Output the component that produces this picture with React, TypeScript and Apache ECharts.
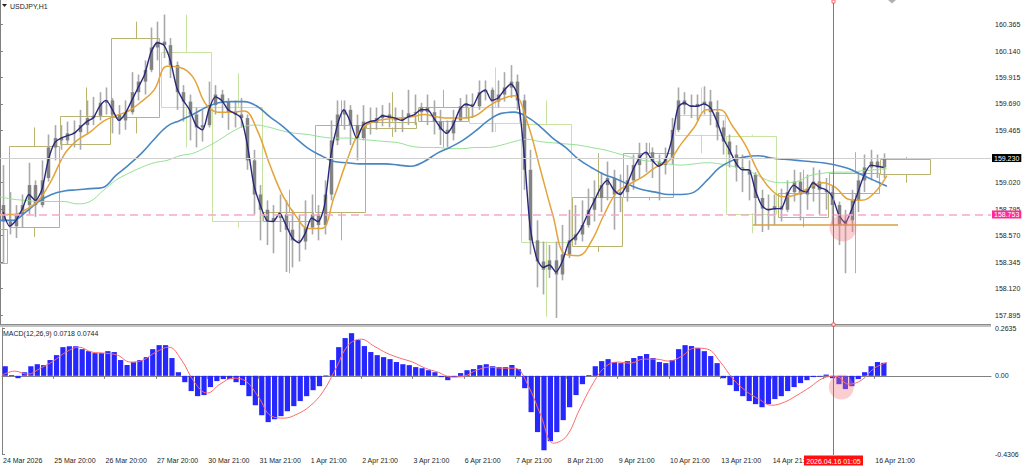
import React, { useEffect, useRef } from 'react';
import * as echarts from 'echarts';

// ---------- text ----------
const symbolTitle = 'USDJPY,H1';
const macdTitle = 'MACD(12,26,9) 0.0718 0.0744';
const cursorLabel = '2026.04.16 01:05';

// ---------- time axis (hourly bars) ----------
const barsPerLabel = 24;
const barsPerCandle = 3;
const barsPerMaPoint = 6;
const xMaxBar = 462.6;
const timeLabels = [
  '24 Mar 2026', '25 Mar 20:00', '26 Mar 20:00', '27 Mar 20:00', '30 Mar 21:00', '31 Mar 21:00',
  '1 Apr 21:00', '2 Apr 21:00', '3 Apr 21:00', '6 Apr 21:00', '7 Apr 21:00', '8 Apr 21:00',
  '9 Apr 21:00', '10 Apr 21:00', '13 Apr 21:00', '14 Apr 21:00', '15 Apr 21:00', '16 Apr 21:00',
];
const hiddenTimeLabel = 16; // covered by the cursor time box

// ---------- price axis ----------
const priceMin = 157.81;
const priceMax = 160.574;
const priceTicks = [160.365, 160.14, 159.915, 159.69, 159.465, 159.02, 158.795, 158.57, 158.345, 158.12, 157.895];
const bidPrice = 159.23;
const alertPrice = 158.753;
const supportPrice = 158.661;
const supportFromBar = 351.5;
const supportToBar = 419.2;
const cursorBar = 388.5;
const highlightMain = [393.5, 158.635];
const highlightMacd = [392.6, -0.062];

// ---------- MACD axis ----------
const macdMin = -0.4306;
const macdMax = 0.2635;
const macdTicks = [0.2635, 0, -0.4306];

// ---------- candles (3-hour groups): open, close, low, high ----------
const candles = [
  [158.83, 158.69, 158.34, 159.17], [158.69, 158.65, 158.58, 158.94], [158.65, 158.75, 158.55, 158.83], [158.75, 158.83, 158.64, 158.92],
  [158.83, 159.00, 158.75, 159.19], [159.00, 158.83, 158.73, 159.04], [158.83, 159.04, 158.81, 159.21], [159.06, 159.32, 159.03, 159.43],
  [159.32, 159.40, 159.21, 159.51], [159.40, 159.38, 159.30, 159.51], [159.38, 159.44, 159.34, 159.54], [159.44, 159.45, 159.32, 159.55],
  [159.45, 159.51, 159.30, 159.64], [159.51, 159.57, 159.43, 159.72], [159.57, 159.59, 159.51, 159.75], [159.59, 159.70, 159.55, 159.79],
  [159.70, 159.72, 159.60, 159.83], [159.72, 159.60, 159.44, 159.74], [159.60, 159.55, 159.43, 159.68], [159.55, 159.62, 159.47, 159.72],
  [159.62, 159.79, 159.60, 159.96], [159.79, 159.88, 159.72, 159.94], [159.88, 159.98, 159.77, 160.06], [159.98, 160.17, 159.96, 160.34],
  [160.17, 160.22, 160.06, 160.39], [160.22, 160.19, 160.08, 160.45], [160.19, 160.02, 159.91, 160.25], [160.02, 159.79, 159.64, 160.05],
  [159.79, 159.71, 159.54, 159.85], [159.71, 159.60, 159.38, 159.77], [159.60, 159.49, 159.32, 159.66], [159.49, 159.51, 159.37, 159.64],
  [159.51, 159.68, 159.49, 159.88], [159.68, 159.77, 159.60, 159.85], [159.77, 159.71, 159.57, 159.81], [159.71, 159.62, 159.47, 159.74],
  [159.62, 159.60, 159.49, 159.72], [159.60, 159.57, 159.49, 159.74], [159.57, 159.21, 159.13, 159.60], [159.21, 158.92, 158.75, 159.30],
  [158.92, 158.79, 158.53, 159.00], [158.79, 158.69, 158.49, 158.87], [158.69, 158.72, 158.42, 158.83], [158.72, 158.75, 158.60, 158.92],
  [158.75, 158.62, 158.26, 158.87], [158.62, 158.53, 158.30, 158.79], [158.53, 158.52, 158.35, 158.75], [158.52, 158.64, 158.45, 158.87],
  [158.64, 158.75, 158.58, 158.92], [158.75, 158.66, 158.53, 158.83], [158.66, 158.92, 158.58, 159.04], [158.92, 159.38, 158.87, 159.55],
  [159.38, 159.60, 159.34, 159.72], [159.60, 159.64, 159.47, 159.72], [159.64, 159.51, 159.34, 159.68], [159.51, 159.40, 159.21, 159.60],
  [159.40, 159.54, 159.38, 159.68], [159.54, 159.53, 159.43, 159.66], [159.53, 159.57, 159.47, 159.66], [159.57, 159.60, 159.50, 159.68],
  [159.60, 159.57, 159.49, 159.70], [159.57, 159.55, 159.45, 159.66], [159.55, 159.57, 159.45, 159.64], [159.57, 159.61, 159.51, 159.81],
  [159.61, 159.62, 159.51, 159.77], [159.62, 159.66, 159.54, 159.70], [159.66, 159.62, 159.51, 159.77], [159.62, 159.54, 159.43, 159.72],
  [159.54, 159.47, 159.34, 159.64], [159.47, 159.44, 159.32, 159.55], [159.44, 159.55, 159.38, 159.64], [159.55, 159.67, 159.54, 159.74],
  [159.67, 159.69, 159.57, 159.77], [159.69, 159.67, 159.57, 159.78], [159.67, 159.79, 159.64, 159.89], [159.79, 159.81, 159.72, 159.89],
  [159.81, 159.71, 159.45, 159.83], [159.71, 159.77, 159.66, 159.89], [159.77, 159.83, 159.71, 159.96], [159.83, 159.88, 159.74, 160.02],
  [159.88, 159.72, 159.64, 159.94], [159.72, 159.13, 158.96, 159.77], [159.13, 158.53, 158.41, 159.30], [158.53, 158.35, 158.13, 158.70],
  [158.35, 158.28, 158.07, 158.52], [158.28, 158.36, 158.21, 158.49], [158.36, 158.24, 157.87, 158.52], [158.24, 158.41, 158.19, 158.66],
  [158.41, 158.53, 158.38, 158.79], [158.53, 158.58, 158.49, 158.83], [158.58, 158.66, 158.52, 158.87], [158.66, 158.79, 158.64, 158.97],
  [158.79, 158.89, 158.69, 159.04], [158.89, 159.00, 158.77, 159.11], [159.00, 159.06, 158.87, 159.20], [159.06, 158.92, 158.62, 159.13],
  [158.92, 158.94, 158.77, 159.09], [158.94, 159.04, 158.86, 159.17], [159.04, 159.17, 158.96, 159.26], [159.17, 159.26, 159.06, 159.36],
  [159.26, 159.28, 159.11, 159.36], [159.28, 159.20, 159.06, 159.32], [159.20, 159.17, 158.87, 159.26], [159.17, 159.23, 159.09, 159.32],
  [159.23, 159.47, 159.17, 159.57], [159.47, 159.72, 159.45, 159.83], [159.72, 159.68, 159.60, 159.79], [159.68, 159.67, 159.57, 159.77],
  [159.67, 159.69, 159.55, 159.77], [159.69, 159.71, 159.60, 159.84], [159.71, 159.62, 159.51, 159.81], [159.62, 159.49, 159.38, 159.72],
  [159.49, 159.37, 159.26, 159.55], [159.37, 159.26, 159.15, 159.43], [159.26, 159.15, 159.03, 159.34], [159.15, 159.13, 158.94, 159.26],
  [159.13, 159.09, 158.87, 159.21], [159.09, 158.89, 158.66, 159.11], [158.89, 158.80, 158.60, 158.96], [158.80, 158.79, 158.62, 158.92],
  [158.79, 158.82, 158.66, 158.92], [158.82, 158.79, 158.69, 158.97], [158.79, 158.94, 158.77, 159.04], [158.94, 159.03, 158.86, 159.13],
  [159.03, 158.92, 158.70, 159.11], [158.92, 158.97, 158.79, 159.09], [158.97, 159.03, 158.86, 159.15], [159.03, 158.96, 158.75, 159.13],
  [158.96, 158.94, 158.79, 159.06], [158.94, 158.83, 158.66, 159.00], [158.83, 158.66, 158.49, 158.86], [158.66, 158.70, 158.25, 158.79],
  [158.70, 158.87, 158.60, 158.96], [158.87, 159.04, 158.77, 159.11], [159.04, 159.15, 158.94, 159.26], [159.15, 159.20, 159.04, 159.30],
  [159.20, 159.15, 159.06, 159.26], [159.15, 159.23, 159.06, 159.27],
];

// fast MA (one value per candle group)
const maFast = [
  158.77, 158.65, 158.70, 158.80, 158.92, 158.87, 158.96, 159.21, 159.36, 159.40,
  159.42, 159.44, 159.49, 159.54, 159.57, 159.67, 159.72, 159.64, 159.55, 159.61,
  159.72, 159.83, 159.94, 160.13, 160.21, 160.19, 160.06, 159.83, 159.72, 159.64,
  159.51, 159.47, 159.64, 159.75, 159.72, 159.64, 159.61, 159.57, 159.34, 159.00,
  158.83, 158.70, 158.69, 158.76, 158.66, 158.55, 158.51, 158.59, 158.72, 158.69,
  158.83, 159.26, 159.51, 159.64, 159.54, 159.40, 159.51, 159.54, 159.55, 159.59,
  159.58, 159.57, 159.55, 159.58, 159.60, 159.64, 159.64, 159.57, 159.49, 159.44,
  159.51, 159.64, 159.69, 159.67, 159.77, 159.81, 159.72, 159.74, 159.81, 159.86,
  159.77, 159.30, 158.64, 158.38, 158.30, 158.32, 158.26, 158.35, 158.51, 158.56,
  158.64, 158.76, 158.87, 158.98, 159.04, 158.96, 158.92, 159.00, 159.13, 159.23,
  159.28, 159.21, 159.16, 159.21, 159.38, 159.66, 159.70, 159.67, 159.67, 159.69,
  159.66, 159.55, 159.40, 159.30, 159.19, 159.13, 159.13, 158.96, 158.83, 158.79,
  158.80, 158.80, 158.92, 159.00, 158.96, 158.94, 159.02, 158.98, 158.96, 158.90,
  158.75, 158.68, 158.79, 158.94, 159.09, 159.17, 159.16, 159.15,
];

// slower MAs, one value every 6 bars
const maMid = [
  158.75, 158.75, 158.79, 158.87, 159.04, 159.26, 159.38, 159.45, 159.54, 159.59,
  159.63, 159.71, 159.81, 160.01, 160.00, 159.92, 159.69, 159.62, 159.62, 159.63,
  159.47, 159.17, 158.91, 158.74, 158.63, 158.63, 158.90, 159.21, 159.46, 159.54,
  159.56, 159.57, 159.58, 159.60, 159.58, 159.57, 159.57, 159.59, 159.67, 159.73,
  159.76, 159.54, 159.15, 158.75, 158.41, 158.40, 158.52, 158.75, 158.94, 159.01,
  159.07, 159.15, 159.20, 159.35, 159.49, 159.64, 159.64, 159.50, 159.34, 159.11,
  158.96, 158.90, 158.92, 158.98, 159.02, 158.98, 158.88, 158.87, 158.93, 159.08,
];
const maSlow = [
  158.70, 158.70, 158.77, 158.86, 158.92, 158.95, 158.96, 158.97, 158.98, 159.08,
  159.17, 159.27, 159.39, 159.50, 159.55, 159.60, 159.66, 159.70, 159.71, 159.71,
  159.67, 159.58, 159.50, 159.40, 159.31, 159.25, 159.20, 159.19, 159.18, 159.18,
  159.18, 159.17, 159.16, 159.20, 159.27, 159.32, 159.38, 159.46, 159.55, 159.61,
  159.62, 159.58, 159.50, 159.40, 159.32, 159.22, 159.15, 159.09, 159.05, 159.00,
  158.96, 158.94, 158.92, 158.92, 158.94, 159.04, 159.15, 159.21, 159.24, 159.25,
  159.23, 159.22, 159.21, 159.20, 159.19, 159.17, 159.14, 159.09, 159.04, 158.99,
];
const maLong = [
  158.90, 158.88, 158.87, 158.86, 158.86, 158.86, 158.84, 158.86, 158.95, 159.04,
  159.10, 159.15, 159.19, 159.21, 159.25, 159.27, 159.32, 159.38, 159.45, 159.50,
  159.51, 159.49, 159.46, 159.44, 159.43, 159.41, 159.40, 159.40, 159.39, 159.38,
  159.37, 159.36, 159.33, 159.32, 159.32, 159.31, 159.31, 159.32, 159.32, 159.34,
  159.37, 159.39, 159.37, 159.36, 159.35, 159.34, 159.32, 159.30, 159.27, 159.24,
  159.21, 159.20, 159.18, 159.17, 159.18, 159.19, 159.18, 159.16, 159.13, 159.08,
  159.03, 159.02, 159.03, 159.08, 159.10, 159.11, 159.11, 159.12, 159.13, 159.14,
];

// daily boxes: first bar of each day, and open, close, high, low
const dayOpenBar = [-20, 4, 28, 52, 75, 99, 123, 147, 171, 195, 219, 243, 267, 291, 315, 339, 363, 387, 411, 435];
const dailyOHLC = [
  [158.34, 158.63, 158.70, 158.20], [158.64, 159.33, 159.49, 158.56], [159.35, 159.59, 159.83, 159.35],
  [159.58, 160.25, 160.39, 159.44], [160.13, 159.66, 160.45, 159.32], [159.66, 158.69, 159.95, 158.64],
  [158.69, 158.77, 158.96, 158.25], [158.77, 159.51, 159.72, 158.53], [159.49, 159.54, 159.79, 159.41],
  [159.54, 159.66, 159.81, 159.32], [159.66, 159.52, 160.00, 159.45], [159.52, 158.52, 159.72, 157.88],
  [158.48, 158.90, 159.27, 158.43], [158.90, 159.27, 159.36, 158.87], [159.60, 159.43, 159.83, 159.27],
  [159.42, 158.76, 159.43, 158.59], [158.73, 158.93, 159.13, 158.64], [158.93, 159.10, 159.28, 158.25],
  [159.09, 159.22, 159.24, 159.02],
];

// MACD histogram (per candle group) and signal (every 6 bars)
const macdHist = [
  0.053, 0.004, -0.013, 0.020, 0.053, 0.064, 0.059, 0.087, 0.114, 0.158,
  0.163, 0.163, 0.147, 0.136, 0.125, 0.125, 0.136, 0.131, 0.087, 0.059,
  0.075, 0.087, 0.103, 0.147, 0.169, 0.169, 0.098, 0.020, -0.035, -0.084,
  -0.112, -0.106, -0.062, -0.029, -0.018, -0.018, -0.035, -0.051, -0.112, -0.162,
  -0.217, -0.255, -0.239, -0.222, -0.195, -0.167, -0.139, -0.112, -0.079, -0.057,
  0.002, 0.087, 0.158, 0.208, 0.235, 0.197, 0.164, 0.131, 0.114, 0.103,
  0.092, 0.076, 0.064, 0.059, 0.048, 0.042, 0.031, 0.020, -0.007, -0.024,
  -0.007, 0.015, 0.031, 0.037, 0.059, 0.064, 0.053, 0.048, 0.048, 0.059,
  0.037, -0.068, -0.200, -0.310, -0.410, -0.360, -0.310, -0.244, -0.173, -0.106,
  -0.046, 0.004, 0.053, 0.081, 0.092, 0.076, 0.070, 0.081, 0.098, 0.109,
  0.120, 0.098, 0.076, 0.070, 0.087, 0.147, 0.169, 0.164, 0.153, 0.136,
  0.109, 0.070, -0.013, -0.051, -0.084, -0.112, -0.139, -0.156, -0.173, -0.156,
  -0.128, -0.112, -0.084, -0.062, -0.040, -0.024, -0.007, -0.002, 0.007, -0.013,
  -0.046, -0.073, -0.057, -0.018, 0.020, 0.053, 0.076, 0.0718,
];
const macdSignal = [
  0.004, 0.026, 0.009, 0.042, 0.081, 0.131, 0.158, 0.131, 0.125, 0.114,
  0.076, 0.087, 0.131, 0.158, 0.087, -0.035, -0.095, -0.046, -0.013, -0.029,
  -0.117, -0.222, -0.233, -0.211, -0.167, -0.090, 0.037, 0.169, 0.202, 0.164,
  0.125, 0.098, 0.076, 0.042, 0.020, -0.007, -0.002, 0.031, 0.048, 0.042,
  0.042, -0.051, -0.217, -0.371, -0.333, -0.189, -0.051, 0.048, 0.076, 0.070,
  0.092, 0.092, 0.081, 0.109, 0.153, 0.147, 0.076, -0.018, -0.084, -0.128,
  -0.162, -0.145, -0.106, -0.062, -0.013, -0.002, -0.046, -0.024, 0.042, 0.0744,
];

const FONT = '"Liberation Sans", Arial, sans-serif';
const TXT = '#1e1e1e';
const AXIS = '#808080';

export default function App() {
  const ref = useRef<HTMLDivElement>(null);

  useEffect(() => {
    document.body.style.margin = '0';
    const chart = echarts.init(ref.current!, null, { renderer: 'svg' });

    const candleX = (i: number) => i * barsPerCandle + barsPerCandle / 2;
    const maX = (k: number) => k * barsPerMaPoint;
    const labelBars = timeLabels.map((_, i) => i * barsPerLabel).filter((_, i) => i !== hiddenTimeLabel);
    const tickBars = timeLabels.map((_, i) => i * barsPerLabel);

    const option: any = {
      animation: false,
      backgroundColor: '#ffffff',
      grid: [
        { left: 0, right: 33, top: 0, height: 325 },
        { left: 0, right: 33, top: 328, height: 126 },
      ],
      xAxis: [
        { gridIndex: 0, type: 'value', min: 0, max: xMaxBar, show: false, splitLine: { show: false } },
        {
          gridIndex: 1, type: 'value', min: 0, max: xMaxBar,
          splitLine: { show: false },
          axisLine: { show: true, lineStyle: { color: AXIS, width: 1 } },
          axisTick: { show: true, customValues: tickBars, length: 3, lineStyle: { color: AXIS } },
          axisLabel: {
            customValues: labelBars,
            formatter: (v: number) => timeLabels[Math.round(v / barsPerLabel)] || '',
            align: 'left', margin: 3, padding: [0, 0, 0, 1],
            fontSize: 7, fontFamily: FONT, color: TXT,
          },
        },
      ],
      yAxis: [
        {
          gridIndex: 0, type: 'value', position: 'right', min: priceMin, max: priceMax,
          splitLine: { show: false },
          axisLine: { show: true, lineStyle: { color: AXIS } },
          axisTick: { show: true, customValues: priceTicks, length: 3, lineStyle: { color: AXIS } },
          axisLabel: {
            customValues: priceTicks, formatter: (v: number) => v.toFixed(3),
            margin: 4, fontSize: 7, fontFamily: FONT, color: TXT,
          },
        },
        {
          gridIndex: 1, type: 'value', position: 'right', min: macdMin, max: macdMax,
          splitLine: { show: false },
          axisLine: { show: true, lineStyle: { color: AXIS } },
          axisTick: { show: true, customValues: macdTicks, length: 3, lineStyle: { color: AXIS } },
          axisLabel: {
            customValues: macdTicks, formatter: (v: number) => (v === 0 ? '0.00' : v.toFixed(4)),
            margin: 4, fontSize: 7, fontFamily: FONT, color: TXT,
          },
        },
      ],
      series: [
        {
          name: 'daily', type: 'custom', xAxisIndex: 0, yAxisIndex: 0, z: 1, silent: true, clip: true,
          encode: { x: [0, 1], y: [2, 3, 4, 5] },
          data: dailyOHLC.map((d, i) => [dayOpenBar[i], dayOpenBar[i + 1], d[0], d[1], d[2], d[3]]),
          renderItem: (_p: any, api: any) => {
            const o = api.value(2), c = api.value(3);
            const pO = api.coord([api.value(0), o]);
            const pC = api.coord([api.value(1), c]);
            const yH = api.coord([api.value(0), api.value(4)])[1];
            const yL = api.coord([api.value(0), api.value(5)])[1];
            const top = Math.min(pO[1], pC[1]);
            const bot = Math.max(pO[1], pC[1]);
            const xm = Math.round((pO[0] + pC[0]) / 2) + 0.5;
            const color = c >= o ? '#b9b46f' : '#c7e2a1';
            return {
              type: 'group',
              children: [
                { type: 'rect', shape: { x: Math.round(pO[0]) + 0.5, y: Math.round(top) + 0.5, width: Math.round(pC[0] - pO[0]) - 1, height: Math.max(1, Math.round(bot - top)) }, style: { fill: 'none', stroke: color, lineWidth: 1 } },
                { type: 'line', shape: { x1: xm, y1: yH, x2: xm, y2: top }, style: { stroke: color, lineWidth: 1 } },
                { type: 'line', shape: { x1: xm, y1: bot, x2: xm, y2: yL }, style: { stroke: color, lineWidth: 1 } },
              ],
            };
          },
        },
        {
          name: 'candles', type: 'custom', xAxisIndex: 0, yAxisIndex: 0, z: 2, silent: true,
          encode: { x: 0, y: [1, 2, 3, 4] },
          data: candles.map((d, i) => [candleX(i), d[0], d[1], d[2], d[3]]),
          renderItem: (_p: any, api: any) => {
            const x = api.value(0);
            const pO = api.coord([x, api.value(1)]);
            const pC = api.coord([x, api.value(2)]);
            const pL = api.coord([x, api.value(3)]);
            const pH = api.coord([x, api.value(4)]);
            const xm = Math.round(pO[0]) + 0.5;
            const top = Math.min(pO[1], pC[1]);
            return {
              type: 'group',
              children: [
                { type: 'line', shape: { x1: xm, y1: pH[1], x2: xm, y2: pL[1] }, style: { stroke: '#a9a9a9', lineWidth: 1.6 } },
                { type: 'rect', shape: { x: xm - 1.75, y: top, width: 3.5, height: Math.max(1, Math.abs(pO[1] - pC[1])) }, style: { fill: '#838383' } },
              ],
            };
          },
        },
        {
          name: 'MA long', type: 'line', xAxisIndex: 0, yAxisIndex: 0, z: 3, silent: true,
          showSymbol: false, smooth: 0.4,
          data: maLong.map((v, k) => [maX(k), v]),
          lineStyle: { color: '#95e295', width: 1 },
          markLine: {
            silent: true, symbol: 'none',
            data: [
              {
                yAxis: bidPrice, lineStyle: { color: '#cfcfcf', width: 1.2, type: 'solid' },
                label: { show: true, position: 'end', distance: 1, formatter: bidPrice.toFixed(3), color: '#ffffff', backgroundColor: '#000000', padding: [1, 2, 0, 2], fontSize: 7, fontFamily: FONT },
              },
              {
                yAxis: alertPrice, lineStyle: { color: '#f8a6cd', width: 1.5, type: [8, 5] },
                label: { show: true, position: 'end', distance: 1, formatter: alertPrice.toFixed(3), color: '#ffffff', backgroundColor: '#ff2a94', padding: [1, 2, 0, 2], fontSize: 7, fontFamily: FONT },
              },
              [
                { coord: [supportFromBar, supportPrice], lineStyle: { color: '#d9a03e', width: 1.5, type: 'solid' }, label: { show: false } },
                { coord: [supportToBar, supportPrice] },
              ],
            ],
          },
        },
        {
          name: 'MA slow', type: 'line', xAxisIndex: 0, yAxisIndex: 0, z: 3, silent: true,
          showSymbol: false, smooth: 0.4,
          data: maSlow.map((v, k) => [maX(k), v]),
          lineStyle: { color: '#4a87c2', width: 1.6 },
        },
        {
          name: 'MA mid', type: 'line', xAxisIndex: 0, yAxisIndex: 0, z: 3, silent: true,
          showSymbol: false, smooth: 0.4,
          data: maMid.map((v, k) => [maX(k), v]),
          lineStyle: { color: '#e3a43a', width: 1.5 },
        },
        {
          name: 'MA fast', type: 'line', xAxisIndex: 0, yAxisIndex: 0, z: 4, silent: true,
          showSymbol: false, smooth: 0.25,
          data: maFast.map((v, i) => [candleX(i), v]),
          lineStyle: { color: '#27277c', width: 1.4 },
        },
        {
          name: 'mark main', type: 'scatter', xAxisIndex: 0, yAxisIndex: 0, z: 6, silent: true,
          symbolSize: 27, data: [highlightMain],
          itemStyle: { color: 'rgba(242,118,128,0.45)' },
        },
        {
          name: 'MACD', type: 'custom', xAxisIndex: 1, yAxisIndex: 1, z: 2, silent: true,
          encode: { x: 0, y: 1 },
          data: macdHist.map((v, i) => [candleX(i), v]),
          renderItem: (_p: any, api: any) => {
            const x = api.value(0);
            const p0 = api.coord([x, 0]);
            const p1 = api.coord([x, api.value(1)]);
            return {
              type: 'rect',
              shape: { x: p0[0] - 2.6, y: Math.min(p0[1], p1[1]), width: 5.2, height: Math.max(0.8, Math.abs(p1[1] - p0[1])) },
              style: { fill: '#2626ff' },
            };
          },
        },
        {
          name: 'Signal', type: 'line', xAxisIndex: 1, yAxisIndex: 1, z: 4, silent: true,
          showSymbol: false, smooth: 0.4,
          data: macdSignal.map((v, k) => [maX(k), v]),
          lineStyle: { color: '#ff6a6a', width: 1 },
        },
        {
          name: 'mark macd', type: 'scatter', xAxisIndex: 1, yAxisIndex: 1, z: 6, silent: true,
          symbolSize: 25, data: [highlightMacd],
          itemStyle: { color: 'rgba(242,118,128,0.45)' },
        },
      ],
    };

    chart.setOption(option);

    const cx = Math.round(chart.convertToPixel({ xAxisIndex: 1 }, cursorBar) as number) + 0.5;
    const gridRight = 991;

    chart.setOption({
      graphic: [
        { type: 'polygon', z: 100, shape: { points: [[2, 4], [7, 4], [4.5, 7]] }, style: { fill: '#222' } },
        { type: 'text', z: 100, x: 10, y: 6, style: { text: symbolTitle, fill: TXT, font: `7px ${FONT}`, verticalAlign: 'middle' } },
        { type: 'rect', z: 100, shape: { x: 0, y: 324, width: gridRight, height: 3 }, style: { fill: '#c2c2c2' } },
        { type: 'line', z: 100, shape: { x1: 0, y1: 324.5, x2: gridRight, y2: 324.5 }, style: { stroke: '#8a8a8a', lineWidth: 1 } },
        { type: 'text', z: 100, x: 3, y: 333, style: { text: macdTitle, fill: TXT, font: `7px ${FONT}`, verticalAlign: 'middle' } },
        { type: 'polygon', z: 100, shape: { points: [[888, 0], [896, 0], [892, 3.5]] }, style: { fill: '#b0b0b0' } },
        { type: 'line', z: 101, shape: { x1: cx, y1: 0, x2: cx, y2: 455 }, style: { stroke: '#ff4444', lineWidth: 1 } },
        { type: 'rect', z: 102, shape: { x: cx - 1.5, y: 0, width: 3, height: 3 }, style: { fill: '#fff', stroke: '#ff4444', lineWidth: 0.8 } },
        { type: 'rect', z: 102, shape: { x: cx - 1.5, y: 323, width: 3, height: 3 }, style: { fill: '#fff', stroke: '#ff4444', lineWidth: 0.8 } },
        { type: 'rect', z: 102, shape: { x: cx - 29.5, y: 455.5, width: 59, height: 10 }, style: { fill: '#ff1010' } },
        { type: 'text', z: 103, x: cx, y: 461, style: { text: cursorLabel, fill: '#ffffff', font: `7px ${FONT}`, align: 'center', verticalAlign: 'middle' } },
      ],
    });

    return () => chart.dispose();
  }, []);

  return (
    <div
      ref={ref}
      style={{ position: 'fixed', left: 0, top: 0, width: 1024, height: 468, background: '#ffffff' }}
    />
  );
}
